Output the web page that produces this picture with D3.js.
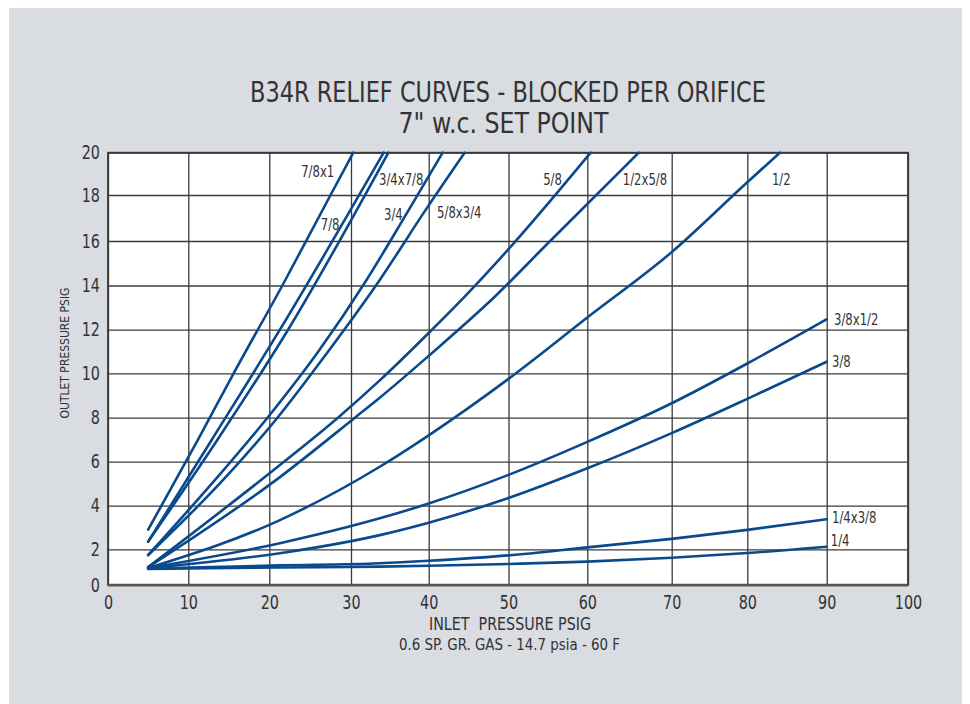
<!DOCTYPE html>
<html><head><meta charset="utf-8">
<script src="https://cdn.jsdelivr.net/npm/d3@7/dist/d3.min.js"></script>
<style>
body{margin:0;background:#fff}
svg{display:block}
text{font-family:"Liberation Sans Narrow","DejaVu Sans Condensed","Roboto",sans-serif;fill:#333}
</style>
</head><body>
<svg id="chart" width="970" height="704"></svg>
<script>
// ---- data ----
const xTicks = [0,10,20,30,40,50,60,70,80,90,100];
const yTicks = [0,2,4,6,8,10,12,14,16,18,20];
const seriesNames = ["7/8x1","7/8","3/4x7/8","3/4","5/8x3/4","5/8","1/2x5/8","1/2","3/8x1/2","3/8","1/4x3/8","1/4"];
const curve7_8x1   = [[5,2.9],[11.2,7],[15.6,10],[21.6,14],[27.5,18],[30.3,20]];
const curve7_8     = [[5,2.35],[12.9,7],[21.3,12],[34.2,20]];
const curve3_4x7_8 = [[5,2.35],[13.6,7],[22.3,12],[34.8,20]];
const curve3_4     = [[5,1.68],[13.3,5.17],[20,8.1],[26,11.0],[32,14.25],[37,17.1],[41.75,20]];
const curve5_8x3_4 = [[5,1.68],[14.3,5.17],[21,8],[27,10.9],[33.7,14.25],[39.5,17.3],[44.5,20]];
const curve5_8     = [[5,1.0],[21.3,5.85],[28.4,8],[33.7,9.68],[40,11.85],[44.6,13.53],[50.6,15.87],[60.4,20]];
const curve1_2x5_8 = [[5,1.0],[21.3,5.3],[30.5,8],[33.7,8.9],[40,10.8],[48.3,13.5],[55,15.9],[66.1,20]];
const curve1_2     = [[5,0.95],[21.3,3.34],[33.7,5.77],[40,7.2],[50,9.75],[60,12.55],[70,15.5],[80,18.6],[84.1,20]];
const curve3_8x1_2 = [[5,0.95],[21.3,2.28],[33.7,3.42],[40,4.1],[50,5.4],[60,6.9],[70,8.65],[80,10.45],[90,12.47]];
const curve3_8     = [[5,0.95],[21.3,1.78],[33.7,2.65],[40,3.22],[50,4.35],[60,5.7],[70,7.3],[80,8.85],[90,10.53]];
const curve1_4x3_8 = [[5,0.92],[21.3,1.1],[33.7,1.22],[40,1.36],[50,1.66],[60,2.09],[70,2.48],[80,2.89],[90,3.38]];
const curve1_4     = [[5,0.9],[21.3,0.98],[33.7,1.03],[40,1.08],[50,1.18],[60,1.31],[70,1.53],[80,1.79],[90,2.12]];
const curves = [curve7_8x1,curve7_8,curve3_4x7_8,curve3_4,curve5_8x3_4,curve5_8,curve1_2x5_8,curve1_2,curve3_8x1_2,curve3_8,curve1_4x3_8,curve1_4];
// label anchor points (data coords)
const labelX = [23.9,26.3,33.6,34.25,41.05,54.4,64.2,83.1,90.9,90.65,90.65,90.5];
const labelY = [18.85,16.5,18.45,16.9,17.0,18.45,18.45,18.45,12.2,10.29,3.2,2.15];

// ---- layout ----
const svg = d3.select("#chart");
const x = d3.scaleLinear().domain(xTicks)
  .range([108,188.3,269.3,351,428.7,508.5,587.3,671.7,747.3,826.7,908]);
const y = d3.scaleLinear().domain(yTicks)
  .range([585,549.3,505.7,461.7,417.7,373.3,329.7,285.5,241,195,152.7]);

function condense(sel, f){
  sel.each(function(){
    const w = this.getComputedTextLength();
    d3.select(this).attr("textLength", w*f).attr("lengthAdjust","spacingAndGlyphs");
  });
}

svg.append("rect").attr("x",0).attr("y",0).attr("width",970).attr("height",704).attr("fill","#fff");
svg.append("rect").attr("x",9).attr("y",8).attr("width",953).attr("height",696).attr("fill","#d9dce1");
svg.append("rect").attr("x",x(0)).attr("y",y(20)).attr("width",x(100)-x(0)).attr("height",y(0)-y(20)).attr("fill","#fff");

const H = y(0)-y(20), W = x(100)-x(0);
const gx = svg.append("g").attr("transform",`translate(0,${y(0)})`)
  .call(d3.axisBottom(x).tickValues(xTicks).tickSize(-H).tickPadding(11).tickFormat(d3.format("d")));
const gy = svg.append("g").attr("transform",`translate(${x(0)},0)`)
  .call(d3.axisLeft(y).tickValues(yTicks).tickSize(-W).tickPadding(8).tickFormat(d3.format("d")));
[gx,gy].forEach(g=>{
  g.select(".domain").remove();
  g.selectAll(".tick line").attr("stroke","#3a3a3a").attr("stroke-width",1.3);
  g.selectAll(".tick text").attr("font-size",19).attr("fill","#333")
   .attr("font-family",'"Liberation Sans Narrow","DejaVu Sans Condensed",sans-serif');
  condense(g.selectAll(".tick text"),0.84);
});
// frame
svg.append("rect").attr("x",x(0)).attr("y",y(20)).attr("width",W).attr("height",H)
  .attr("fill","none").attr("stroke","#3a3a3a").attr("stroke-width",1.8);
svg.append("line").attr("x1",x(0)).attr("x2",x(100)).attr("y1",y(0)).attr("y2",y(0))
  .attr("stroke","#555").attr("stroke-width",2.6);

// curves
const line = d3.line().x(d=>x(d[0])).y(d=>y(d[1])).curve(d3.curveMonotoneX);
svg.append("g").selectAll("path").data(curves).join("path")
  .attr("d",line).attr("fill","none").attr("stroke","#0a4a8c").attr("stroke-width",2.6)
  .attr("stroke-linecap","round");

// series labels
const lbl = svg.append("g").selectAll("text").data(seriesNames).join("text")
  .attr("x",(d,i)=>x(labelX[i])).attr("y",(d,i)=>y(labelY[i]))
  .attr("font-size",16).text(d=>d);
condense(lbl,0.81);

// titles
svg.append("text").attr("x",508).attr("y",102).attr("text-anchor","middle").attr("font-size",28)
  .attr("textLength",516).attr("lengthAdjust","spacingAndGlyphs")
  .text("B34R RELIEF CURVES - BLOCKED PER ORIFICE");
svg.append("text").attr("x",503.5).attr("y",133).attr("text-anchor","middle").attr("font-size",28)
  .attr("textLength",210).attr("lengthAdjust","spacingAndGlyphs")
  .text("7\" w.c. SET POINT");
svg.append("text").attr("x",510).attr("y",630).attr("text-anchor","middle").attr("font-size",17)
  .attr("xml:space","preserve").attr("textLength",162).attr("lengthAdjust","spacingAndGlyphs")
  .text("INLET  PRESSURE PSIG");
svg.append("text").attr("x",509.5).attr("y",650).attr("text-anchor","middle").attr("font-size",16)
  .attr("textLength",221).attr("lengthAdjust","spacingAndGlyphs")
  .text("0.6 SP. GR. GAS - 14.7 psia - 60 F");
svg.append("text").attr("transform","translate(69,353) rotate(-90)").attr("text-anchor","middle")
  .attr("font-size",12).text("OUTLET PRESSURE PSIG");
</script>
</body></html>
